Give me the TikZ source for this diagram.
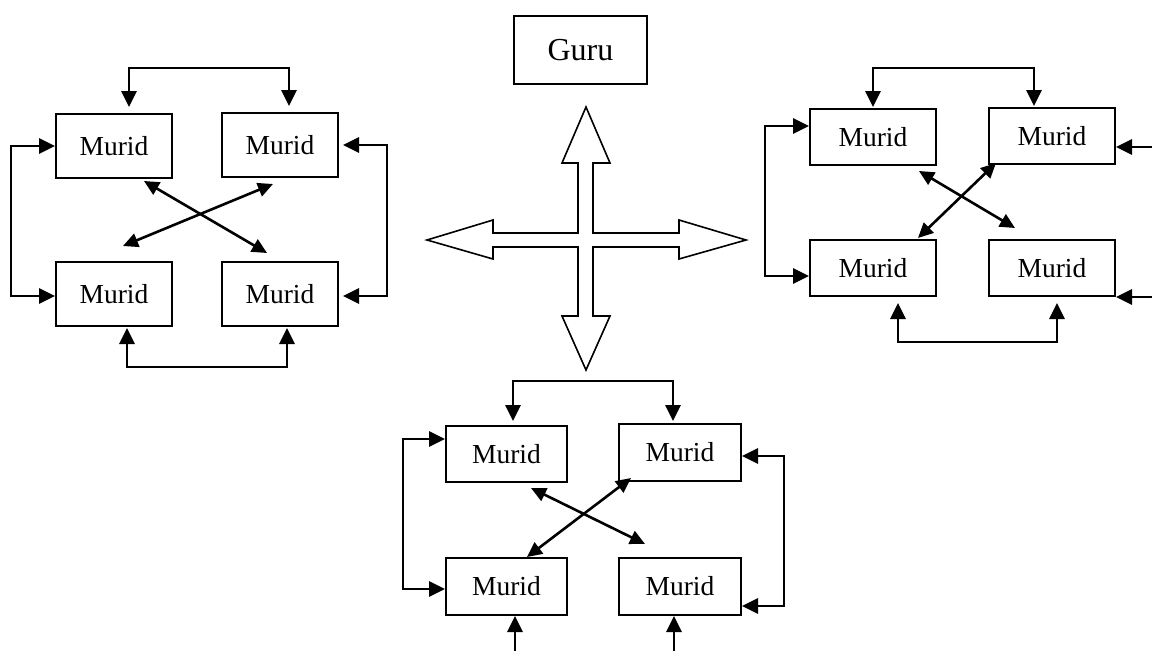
\documentclass[tikz,border=0pt]{standalone}
\usepackage{fontspec}
\setmainfont{Liberation Serif}
\usetikzlibrary{arrows.meta,calc}
\tikzset{
  mbox/.style={draw, line width=2pt, inner sep=0pt, font=\fontsize{27.5}{32}\selectfont},
  conn/.style={line width=2.8pt, -{Triangle[length=16pt,width=15pt]}},
  dconn/.style={line width=2.8pt, {Triangle[length=16pt,width=15pt]}-{Triangle[length=16pt,width=15pt]}},
  xconn/.style={line width=2.6pt, {Triangle[length=15pt,width=14pt]}-{Triangle[length=15pt,width=14pt]}},
  quad/.style={draw, line width=1.6pt, line join=miter}
}
\begin{document}
\begin{tikzpicture}[x=1pt,y=-1pt]
\useasboundingbox (0,0) rectangle (1152,651);

% Guru
\node[mbox, minimum width=133pt, minimum height=68pt, font=\fontsize{32}{38}\selectfont] (G) at (580.5,50) {Guru};

% four-way arrow
\draw[quad] (586,107) -- (610,163) -- (593,163) -- (593,233) -- (679,233) -- (679,220)
  -- (746,240) -- (679,259) -- (679,247) -- (593,247) -- (593,316) -- (610,316)
  -- (586,370) -- (562,316) -- (578,316) -- (578,247) -- (493,247) -- (493,259)
  -- (427,240) -- (493,220) -- (493,233) -- (578,233) -- (578,163) -- (562,163) -- cycle;

% ---------- left cluster ----------
\node[mbox, minimum width=116pt, minimum height=64pt] (L1) at (114,146) {Murid};
\node[mbox, minimum width=116pt, minimum height=64pt] (L2) at (280,145) {Murid};
\node[mbox, minimum width=116pt, minimum height=64pt] (L3) at (114,294) {Murid};
\node[mbox, minimum width=116pt, minimum height=64pt] (L4) at (280,294) {Murid};

\draw[dconn] ([xshift=15pt,yshift=6pt]L1.north) -- ++(0,-39) -| ([xshift=9pt,yshift=6pt]L2.north);
\draw[dconn] (L1.west) -- ++(-44,0) |- ([yshift=-2pt]L3.west);
\draw[dconn] ([xshift=4pt]L2.east) -- ++(44,0) |- ([xshift=4pt,yshift=-2pt]L4.east);
\draw[dconn] ([xshift=13pt,yshift=-1pt]L3.south) -- ++(0,39) -| ([xshift=7pt,yshift=-1pt]L4.south);
\draw[xconn] ($(L1.south east)+(-29,2)$) -- ($(L4.north west)+(46,-8)$);
\draw[xconn] ($(L3.north)+(9,-15)$) -- ($(L2.south)+(-7,6)$);

% ---------- right cluster ----------
\node[mbox, minimum width=126pt, minimum height=56pt] (R1) at (873,137) {Murid};
\node[mbox, minimum width=126pt, minimum height=56pt] (R2) at (1052,136) {Murid};
\node[mbox, minimum width=126pt, minimum height=56pt] (R3) at (873,268) {Murid};
\node[mbox, minimum width=126pt, minimum height=56pt] (R4) at (1052,268) {Murid};

\draw[dconn] ([yshift=1pt]R1.north) -- ++(0,-39) -| ([xshift=-18pt,yshift=1pt]R2.north);
\draw[dconn] ([yshift=11pt]R1.west) -- ++(-44,0) |- ([yshift=-8pt]R3.west);
\coordinate (Rr1) at (1152,147);
\coordinate (Rr2) at (1152,297);
\draw[conn] (Rr1) -- ([yshift=-11pt]R2.east);
\draw[conn] (Rr2) -- ([yshift=-29pt]R4.east);
\draw[dconn] ([xshift=25pt,yshift=-6pt]R3.south) -- ++(0,39) -| ([xshift=5pt,yshift=-6pt]R4.south);
\draw[xconn] ($(R1.south east)+(-18,5)$) -- ($(R4.north west)+(27,-11)$);
\draw[xconn] ($(R3.north east)+(-19,-1)$) -- ($(R2.south west)+(8,-2)$);

% ---------- bottom cluster ----------
\node[mbox, minimum width=121pt, minimum height=56pt] (B1) at (506.5,454) {Murid};
\node[mbox, minimum width=122pt, minimum height=57pt] (B2) at (680,452.5) {Murid};
\node[mbox, minimum width=121pt, minimum height=57pt] (B3) at (506.5,586.5) {Murid};
\node[mbox, minimum width=122pt, minimum height=57pt] (B4) at (680,586.5) {Murid};

\draw[dconn] ([xshift=6.5pt,yshift=4pt]B1.north) -- ++(0,-40) -| ([xshift=-7pt,yshift=2pt]B2.north);
\draw[dconn] ([yshift=15pt]B1.west) -- ++(-42,0) |- ([yshift=-2.5pt]B3.west);
\draw[dconn] ([yshift=-3.5pt]B2.east) -- ++(42,0) |- ([yshift=-19.5pt]B4.east);
\coordinate (Bb1) at (515,651);
\coordinate (Bb2) at (674,651);
\draw[conn] (Bb1) -- ([xshift=8.5pt]B3.south);
\draw[conn] (Bb2) -- ([xshift=-6pt]B4.south);
\draw[xconn] ($(B1.south east)+(-37,5)$) -- ($(B4.north west)+(27,-13)$);
\draw[xconn] ($(B3.north)+(20.5,0)$) -- ($(B2.south west)+(13,-4)$);
\end{tikzpicture}
\end{document}
